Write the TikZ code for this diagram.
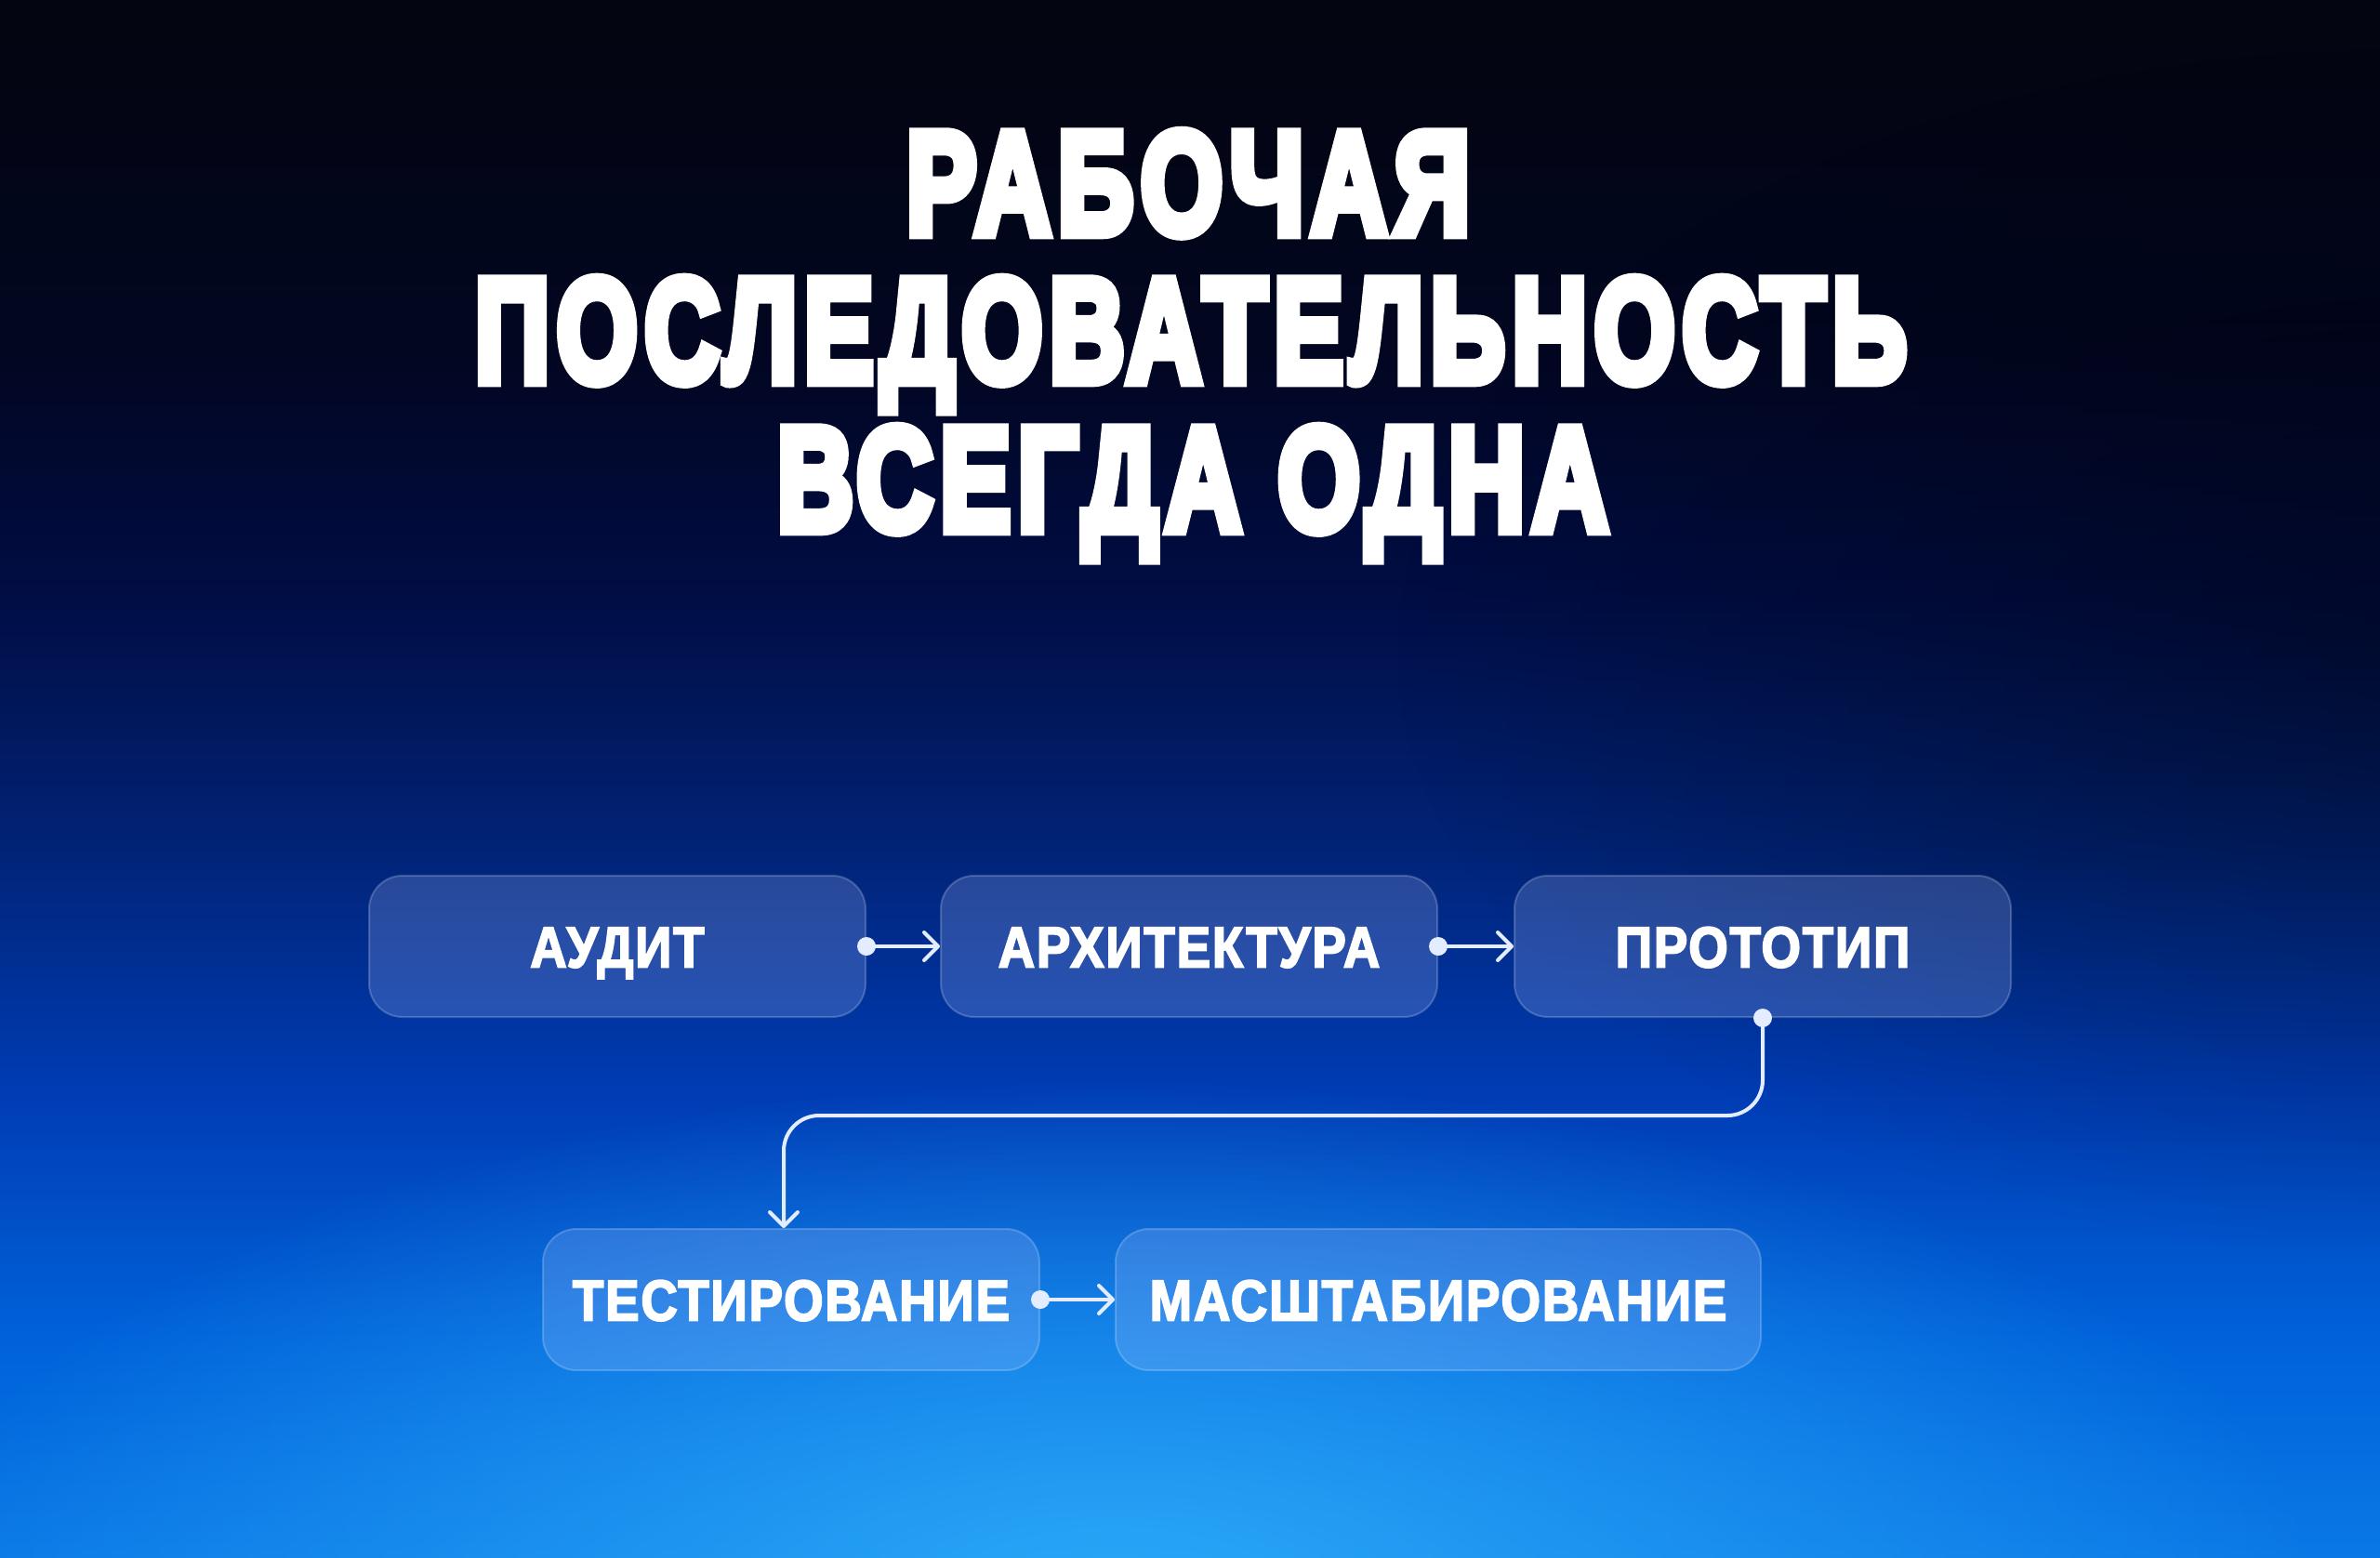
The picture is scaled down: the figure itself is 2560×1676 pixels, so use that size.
\documentclass[tikz,border=0pt]{standalone}
\usepackage{fontspec}
\usetikzlibrary{arrows.meta,fadings}
\newfontfamily\titlefont{Liberation Sans}[UprightFont=* Bold, FakeBold=8, LetterSpace=7]
\newfontfamily\labelfont{Liberation Sans}[UprightFont=* Bold, FakeStretch=0.88, FakeBold=3, LetterSpace=3]
\definecolor{bg0}{HTML}{0A78E6}
\definecolor{bg1}{HTML}{0062DA}
\definecolor{bg2}{HTML}{003CB4}
\definecolor{bg3}{HTML}{012274}
\definecolor{bg4}{HTML}{010D44}
\definecolor{bg5}{HTML}{020621}
\definecolor{bg6}{HTML}{03050F}
\definecolor{glowc}{HTML}{2AA8F8}
\definecolor{lav}{HTML}{B4C6FF}
\definecolor{linec}{HTML}{E4EDFF}
\pgfdeclareverticalshading{bgsh}{100bp}{color(0bp)=(bg0); color(25bp)=(bg0); color(32.04bp)=(bg1); color(39.95bp)=(bg2); color(48.15bp)=(bg3); color(55.91bp)=(bg4); color(63.66bp)=(bg5); color(75bp)=(bg6); color(100bp)=(bg6)}
\tikzfading[name=softglow, inner color=transparent!0, outer color=transparent!100]
\tikzset{
  stepbox/.style={draw=white, draw opacity=0.2, line width=2pt, fill=lav, fill opacity=0.22,
    text opacity=1, text=white, rounded corners=36pt, minimum width=534pt, minimum height=152pt,
    inner sep=0pt, text height=45pt, text depth=0pt,
    font={\labelfont\fontsize{62pt}{62pt}\selectfont}},
  titletext/.style={text=white, inner sep=0pt, anchor=base,
    font={\titlefont\fontsize{165pt}{165pt}\selectfont}},
  link/.style={draw=linec, line width=4pt, line cap=round,
    -{Straight Barb[length=15pt,width=30pt,round]}},
  linkdot/.style={fill=linec}
}
\begin{document}
\begin{tikzpicture}[x=1pt,y=-1pt]
\useasboundingbox (0,0) rectangle (2560,1676);
\shade[shading=bgsh] (0,0) rectangle (2560,1676);
\begin{scope}
\clip (0,0) rectangle (2560,1676);
\fill[black, opacity=0.4, path fading=softglow] (2600,700) ellipse [x radius=1100, y radius=650];
\fill[glowc, path fading=softglow] (1200,1720) ellipse [x radius=1300, y radius=560];
\end{scope}

\node[titletext] (t1) at (1278,251) {\resizebox{606pt}{109pt}{РАБОЧАЯ}};
\node[titletext] (t2) at (1281,410) {\resizebox{1540pt}{110pt}{ПОСЛЕДОВАТЕЛЬНОСТЬ}};
\node[titletext] (t3) at (1283,570) {\resizebox{894pt}{110pt}{ВСЕГДА ОДНА}};

\node[stepbox] (a1) at (664,1018) {АУДИТ};
\node[stepbox] (a2) at (1279,1018) {АРХИТЕКТУРА};
\node[stepbox] (a3) at (1896,1018) {ПРОТОТИП};
\node[stepbox] (a4) at (851,1398) {ТЕСТИРОВАНИЕ};
\node[stepbox, minimum width=694pt] (a5) at (1547,1398) {МАСШТАБИРОВАНИЕ};

\coordinate (bend) at (843,1200);
\draw[link] (a1.east) -- (a2.west);
\draw[link] (a2.east) -- (a3.west);
\draw[link, rounded corners=38pt] (a3.south) |- (bend) -- (bend |- a4.north);
\draw[link] (a4.east) -- (a5.west);
\fill[linkdot] (a1.east) circle[radius=10pt];
\fill[linkdot] (a2.east) circle[radius=10pt];
\fill[linkdot] (a3.south) circle[radius=10pt];
\fill[linkdot] (a4.east) circle[radius=10pt];
\end{tikzpicture}
\end{document}
